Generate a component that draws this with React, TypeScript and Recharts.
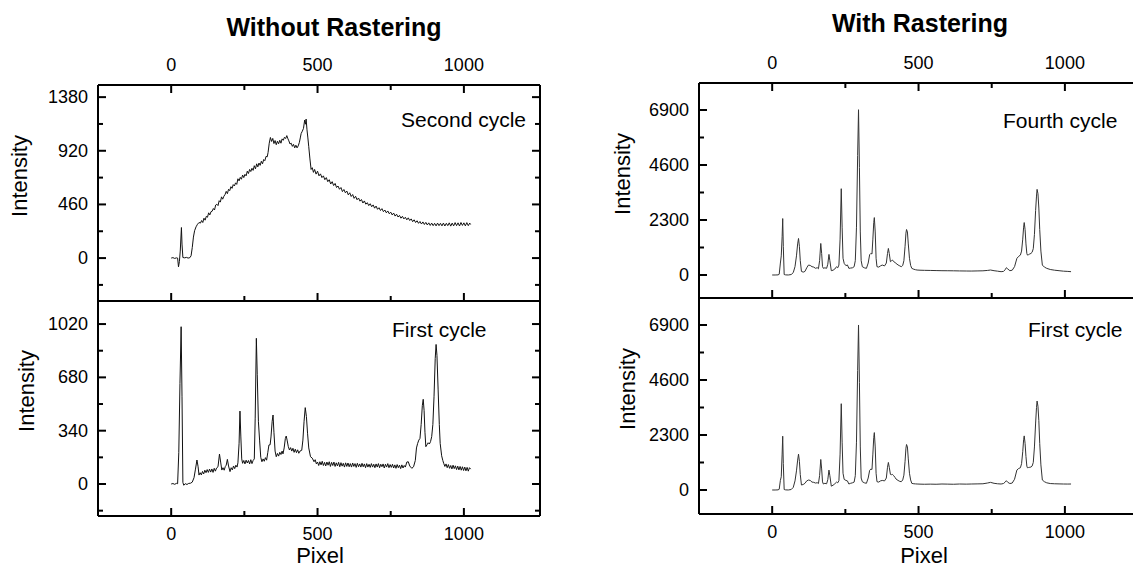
import { LineChart, Line, XAxis, YAxis } from "recharts";

const FONT = '"Liberation Sans", Arial, Helvetica, sans-serif';

// pixel axis
const pixelDomain: [number, number] = [-250, 1260];
const pixelTicks = [0, 250, 500, 750, 1000];
const pixelMajors = [0, 500, 1000];

// y ticks per panel
const secondTicks = [-230, 0, 230, 460, 690, 920, 1150, 1380];
const secondMajors = [0, 460, 920, 1380];
const firstTicks = [-170, 0, 170, 340, 510, 680, 850, 1020];
const firstMajors = [0, 340, 680, 1020];
const rasterTicks = [0, 1150, 2300, 3450, 4600, 5750, 6900];
const rasterMajors = [0, 2300, 4600, 6900];

// [pixel, intensity]
const secondNoRaster: [number, number][] = [
  [0, 0], [6, 4], [12, -3], [18, 2], [22, 0], [25, -75], [28, -30], [31, 60], [35, 262], [37, 120],
  [40, 5], [46, 2], [52, 6], [58, 0], [64, 4], [68, 20], [72, 90], [76, 180], [80, 235], [85, 268],
  [90, 290], [95, 305], [100, 300], [104, 322], [108, 305], [112, 342], [116, 325], [120, 358], [124, 350],
  [128, 388], [132, 370], [136, 398], [140, 402], [144, 425], [148, 412], [152, 455], [156, 462], [160, 450],
  [164, 492], [168, 480], [172, 525], [176, 505], [180, 530], [184, 545], [188, 572], [192, 552], [196, 590],
  [200, 578], [204, 612], [208, 598], [212, 630], [216, 618], [220, 645], [224, 632], [228, 680], [232, 662],
  [236, 692], [240, 676], [244, 712], [248, 690], [252, 718], [256, 705], [260, 745], [264, 725], [268, 760],
  [272, 742], [276, 770], [280, 752], [284, 792], [288, 765], [292, 808], [296, 782], [300, 815], [304, 795],
  [308, 830], [312, 808], [316, 845], [320, 835], [324, 872], [328, 868], [331, 905], [335, 985], [339, 1034],
  [343, 1000], [347, 1026], [351, 982], [355, 1008], [359, 972], [363, 1002], [367, 980], [371, 1010],
  [375, 985], [379, 1022], [383, 1010], [387, 1036], [391, 1025], [395, 1050], [398, 1028], [402, 1005],
  [406, 978], [410, 985], [414, 958], [418, 975], [422, 945], [426, 968], [430, 945], [434, 962], [438, 992],
  [441, 1030], [444, 1068], [448, 1088], [452, 1112], [456, 1183], [459, 1148], [461, 1192], [464, 1100],
  [467, 1030], [470, 955], [474, 850], [478, 760], [482, 775], [486, 735], [490, 760], [495, 720], [500, 745],
  [505, 705], [510, 722], [515, 690], [520, 705], [525, 672], [530, 690], [535, 655], [540, 672], [545, 635],
  [550, 655], [555, 622], [560, 640], [565, 605], [570, 618], [575, 590], [580, 605], [585, 570], [590, 588],
  [595, 560], [600, 575], [605, 542], [610, 560], [615, 528], [620, 545], [625, 512], [630, 530], [635, 500],
  [640, 515], [645, 488], [650, 502], [655, 472], [660, 490], [665, 462], [670, 475], [675, 450], [680, 466],
  [685, 440], [690, 456], [695, 428], [700, 446], [705, 418], [710, 432], [715, 408], [720, 424], [725, 398],
  [730, 412], [735, 388], [740, 404], [745, 380], [750, 394], [755, 370], [760, 386], [765, 360], [770, 376],
  [775, 352], [780, 366], [785, 342], [790, 358], [795, 336], [800, 350], [805, 328], [810, 345], [815, 322],
  [820, 336], [825, 312], [830, 328], [835, 305], [840, 320], [845, 298], [850, 314], [855, 292], [860, 310],
  [865, 288], [870, 306], [875, 284], [880, 302], [885, 280], [890, 300], [895, 278], [900, 298], [905, 276],
  [910, 300], [915, 278], [920, 298], [925, 276], [930, 300], [935, 275], [940, 298], [945, 278], [950, 302],
  [955, 274], [960, 300], [965, 276], [970, 304], [975, 278], [980, 302], [985, 275], [990, 305], [995, 280],
  [1000, 302], [1005, 276], [1010, 304], [1015, 278], [1020, 300], [1023, 288],
];

const firstNoRaster: [number, number][] = [
  [0, 0], [6, 3], [12, -2], [18, 4], [22, 2], [26, 200], [30, 640], [34, 1003], [37, 560], [40, 10],
  [43, -8], [48, 2], [54, -3], [60, 4], [66, 5], [72, 12], [78, 40], [83, 95], [88, 153], [92, 110],
  [95, 57], [99, 72], [103, 58], [107, 80], [111, 64], [115, 88], [119, 72], [123, 92], [127, 74], [131, 95],
  [135, 76], [139, 96], [143, 74], [147, 100], [151, 82], [155, 102], [160, 110], [165, 191], [169, 140],
  [173, 89], [177, 104], [181, 88], [185, 112], [188, 120], [192, 157], [196, 115], [201, 79], [205, 104],
  [209, 90], [213, 115], [217, 98], [221, 120], [225, 108], [228, 135], [232, 260], [235, 465], [238, 300],
  [241, 160], [244, 132], [248, 150], [252, 128], [256, 152], [260, 134], [264, 150], [268, 128], [272, 155],
  [276, 130], [280, 150], [284, 160], [287, 420], [291, 929], [294, 700], [298, 397], [302, 280], [306, 170],
  [310, 142], [314, 160], [318, 145], [322, 168], [326, 152], [330, 200], [334, 249], [338, 250], [341, 300],
  [345, 400], [348, 440], [351, 330], [355, 210], [359, 174], [363, 195], [367, 178], [371, 202], [375, 188],
  [379, 210], [382, 192], [386, 230], [390, 290], [393, 306], [396, 280], [400, 240], [404, 217], [408, 232],
  [412, 210], [416, 228], [420, 202], [424, 222], [428, 200], [432, 218], [436, 196], [440, 210], [446, 215],
  [450, 280], [454, 400], [458, 487], [462, 430], [466, 320], [470, 230], [476, 174], [482, 165], [488, 142],
  [492, 155], [496, 128], [500, 140], [504, 118], [508, 142], [512, 122], [516, 145], [520, 118], [524, 138],
  [528, 115], [532, 140], [536, 120], [540, 142], [544, 112], [548, 138], [552, 118], [556, 140], [560, 112],
  [564, 135], [568, 115], [572, 138], [576, 110], [580, 136], [584, 114], [588, 132], [592, 108], [596, 135],
  [600, 112], [604, 134], [608, 110], [612, 130], [616, 108], [620, 134], [624, 112], [628, 130], [632, 106],
  [636, 132], [640, 110], [644, 128], [648, 108], [652, 132], [656, 110], [660, 128], [664, 104], [668, 130],
  [672, 108], [676, 126], [680, 106], [684, 130], [688, 108], [692, 126], [696, 104], [700, 128], [704, 108],
  [708, 130], [712, 104], [716, 126], [720, 110], [724, 128], [728, 102], [732, 126], [736, 108], [740, 130],
  [744, 104], [748, 124], [752, 106], [756, 126], [760, 102], [764, 122], [768, 100], [772, 124], [776, 104],
  [780, 120], [784, 98], [788, 122], [792, 102], [796, 118], [800, 108], [805, 140], [810, 142], [815, 115],
  [822, 100], [828, 110], [834, 150], [838, 230], [842, 259], [846, 280], [850, 291], [854, 380], [858, 500],
  [861, 540], [864, 470], [867, 330], [870, 238], [874, 250], [878, 263], [882, 255], [886, 270], [890, 302],
  [894, 380], [898, 560], [902, 800], [905, 890], [908, 820], [912, 600], [916, 380], [919, 259], [924, 180],
  [928, 150], [931, 132], [935, 112], [939, 128], [943, 104], [947, 124], [951, 100], [955, 118], [959, 96],
  [963, 120], [967, 98], [971, 116], [975, 92], [979, 114], [983, 90], [987, 112], [991, 88], [995, 110],
  [999, 86], [1003, 108], [1007, 84], [1011, 106], [1015, 82], [1019, 104], [1023, 95],
];

const fourthRaster: [number, number][] = [
  [0, 0], [10, 0], [20, 5], [24, 30], [28, 500], [31, 800], [34, 1600], [36, 2360], [38, 1200], [41, 20],
  [46, 5], [55, 0], [65, 20], [72, 100], [78, 350], [83, 800], [87, 1300], [90, 1527], [93, 1200], [96, 600],
  [100, 150], [106, 120], [112, 150], [118, 300], [124, 416], [130, 400], [136, 347], [142, 330], [148, 280],
  [154, 305], [158, 260], [162, 600], [166, 1319], [169, 900], [172, 350], [175, 278], [180, 300], [186, 280],
  [190, 450], [194, 861], [197, 600], [202, 180], [208, 200], [214, 250], [220, 347], [224, 300], [228, 416],
  [232, 1500], [236, 3609], [239, 2000], [242, 700], [246, 486], [252, 389], [257, 420], [262, 278], [268, 290],
  [274, 300], [280, 347], [284, 600], [288, 2000], [292, 5000], [295, 6912], [298, 4500], [301, 1800], [304, 600],
  [308, 347], [315, 300], [322, 278], [328, 500], [333, 850], [337, 902], [341, 880], [344, 1500], [347, 2200],
  [349, 2401], [352, 1800], [355, 700], [358, 347], [364, 330], [370, 380], [376, 416], [384, 380], [390, 500],
  [394, 900], [397, 1110], [400, 900], [404, 555], [408, 600], [411, 625], [415, 560], [420, 520], [423, 486],
  [430, 420], [436, 380], [441, 347], [446, 400], [450, 600], [454, 1200], [457, 1750], [459, 1902], [462, 1800],
  [465, 1300], [469, 700], [473, 400], [477, 278], [484, 240], [490, 220], [495, 208], [505, 200], [520, 195],
  [540, 190], [560, 185], [580, 180], [600, 178], [620, 175], [640, 170], [663, 167], [680, 165], [700, 170],
  [720, 175], [735, 190], [746, 208], [758, 180], [770, 160], [782, 139], [790, 150], [796, 220], [800, 305],
  [805, 250], [812, 180], [820, 200], [828, 350], [836, 694], [842, 780], [848, 833], [852, 1000], [856, 1500],
  [859, 2000], [861, 2193], [864, 1900], [867, 1300], [870, 900], [872, 833], [876, 850], [880, 880], [884, 902],
  [888, 950], [892, 1100], [896, 1700], [900, 2700], [903, 3300], [905, 3581], [908, 3400], [911, 2800],
  [914, 1900], [918, 1000], [923, 416], [930, 330], [938, 278], [950, 230], [965, 200], [980, 180], [995, 160],
  [1010, 150], [1021, 139],
];

const firstRaster: [number, number][] = [
  [0, 0], [10, 0], [20, 5], [24, 30], [28, 400], [31, 555], [34, 1500], [36, 2249], [38, 1100], [41, 20],
  [46, 5], [55, 0], [65, 20], [72, 110], [78, 380], [83, 800], [87, 1250], [90, 1499], [93, 1200], [96, 650],
  [100, 208], [106, 230], [112, 280], [118, 380], [124, 416], [130, 400], [136, 330], [142, 320], [148, 290],
  [154, 305], [158, 270], [162, 600], [166, 1277], [169, 880], [172, 340], [175, 250], [180, 280], [186, 260],
  [190, 430], [194, 833], [197, 600], [202, 160], [208, 200], [214, 260], [220, 330], [224, 300], [228, 389],
  [232, 1500], [236, 3609], [239, 2000], [242, 700], [246, 444], [252, 400], [257, 380], [262, 250], [268, 280],
  [274, 300], [280, 330], [284, 600], [288, 2000], [292, 5000], [295, 6900], [298, 4500], [301, 1800], [304, 500],
  [308, 347], [315, 300], [322, 280], [328, 500], [333, 820], [337, 874], [341, 860], [344, 1500], [347, 2200],
  [349, 2401], [352, 1800], [355, 700], [358, 347], [364, 330], [370, 380], [376, 400], [384, 380], [390, 500],
  [394, 950], [397, 1152], [400, 950], [404, 652], [408, 640], [411, 652], [415, 600], [420, 520], [423, 460],
  [430, 400], [436, 360], [441, 347], [446, 420], [450, 620], [454, 1200], [457, 1750], [459, 1902], [462, 1800],
  [465, 1300], [469, 700], [473, 420], [477, 278], [484, 260], [490, 255], [495, 250], [505, 245], [520, 240],
  [540, 245], [560, 240], [580, 250], [600, 245], [620, 240], [640, 250], [663, 245], [680, 250], [700, 255],
  [720, 260], [735, 290], [746, 319], [758, 280], [770, 260], [782, 250], [790, 270], [796, 330], [800, 389],
  [805, 320], [812, 270], [820, 290], [828, 450], [836, 833], [842, 900], [848, 930], [852, 1100], [856, 1600],
  [859, 2100], [861, 2262], [864, 1950], [867, 1400], [870, 1000], [872, 930], [876, 940], [880, 950], [884, 960],
  [888, 1000], [892, 1150], [896, 1800], [900, 2800], [903, 3450], [905, 3720], [908, 3500], [911, 2900],
  [914, 1950], [918, 1050], [923, 416], [930, 347], [938, 300], [950, 270], [965, 260], [980, 255], [995, 250],
  [1010, 248], [1021, 250],
];

type Side = "top" | "bottom" | "left" | "right";

function makeTick(side: Side, majors: number[], showLabels: boolean) {
  return (props: any) => {
    const { x, y, payload } = props;
    const v = payload.value as number;
    const major = majors.includes(v);
    const len = major ? 8 : 5;
    let x2 = x, y2 = y;
    if (side === "top") y2 = y + len;
    if (side === "bottom") y2 = y - len;
    if (side === "left") x2 = x + len;
    if (side === "right") x2 = x - len;
    let label = null;
    if (showLabels && major) {
      if (side === "left")
        label = (
          <text x={x - 10} y={y + 6} textAnchor="end" fontSize={18} fontFamily={FONT} fill="#000">
            {v}
          </text>
        );
      if (side === "top")
        label = (
          <text x={x} y={y - 14} textAnchor="middle" fontSize={18} fontFamily={FONT} fill="#000">
            {v}
          </text>
        );
      if (side === "bottom")
        label = (
          <text x={x} y={y + 24} textAnchor="middle" fontSize={18} fontFamily={FONT} fill="#000">
            {v}
          </text>
        );
    }
    return (
      <g>
        <line x1={x} y1={y} x2={x2} y2={y2} stroke="#000" strokeWidth={2} />
        {label}
      </g>
    );
  };
}

interface PanelProps {
  box: { x: number; y: number; w: number; h: number };
  yDomain: [number, number];
  yTicks: number[];
  yMajors: number[];
  series: [number, number][];
  color: string;
  upper: boolean;
}

const frame = { stroke: "#000", strokeWidth: 2 };

function Panel({ box, yDomain, yTicks, yMajors, series, color, upper }: PanelProps) {
  const data = series.map(([p, v]) => ({ p, v }));
  return (
    <div style={{ position: "absolute", left: box.x - 60, top: box.y - 40 }}>
      <LineChart
        width={box.w + 80}
        height={box.h + 80}
        data={data}
        margin={{ top: 10, right: 0, bottom: 10, left: 0 }}
      >
        <XAxis
          xAxisId="t"
          orientation="top"
          type="number"
          dataKey="p"
          domain={pixelDomain}
          allowDataOverflow
          ticks={upper ? pixelTicks : []}
          interval={0}
          height={30}
          tickSize={0}
          tickMargin={0}
          tickLine={false}
          axisLine={frame}
          tick={upper ? makeTick("top", pixelMajors, true) : false}
        />
        <XAxis
          xAxisId="b"
          orientation="bottom"
          type="number"
          dataKey="p"
          domain={pixelDomain}
          allowDataOverflow
          ticks={pixelTicks}
          interval={0}
          height={30}
          tickSize={0}
          tickMargin={0}
          tickLine={false}
          axisLine={frame}
          tick={makeTick("bottom", pixelMajors, !upper)}
        />
        <YAxis
          yAxisId="l"
          orientation="left"
          type="number"
          domain={yDomain}
          allowDataOverflow
          ticks={yTicks}
          interval={0}
          width={60}
          tickSize={0}
          tickMargin={0}
          tickLine={false}
          axisLine={frame}
          tick={makeTick("left", yMajors, true)}
        />
        <YAxis
          yAxisId="r"
          orientation="right"
          type="number"
          domain={yDomain}
          allowDataOverflow
          ticks={yTicks}
          interval={0}
          width={20}
          tickSize={0}
          tickMargin={0}
          tickLine={false}
          axisLine={frame}
          tick={makeTick("right", yMajors, false)}
        />
        <Line
          xAxisId="b"
          yAxisId="l"
          type="linear"
          dataKey="v"
          stroke={color}
          strokeWidth={1}
          dot={false}
          isAnimationActive={false}
        />
      </LineChart>
    </div>
  );
}

function Txt({
  x, y, size, children, anchor = "middle", bold = false, rotate = false,
}: {
  x: number; y: number; size: number; children: string; anchor?: "start" | "middle" | "end";
  bold?: boolean; rotate?: boolean;
}) {
  const tx = anchor === "middle" ? "-50%" : anchor === "end" ? "-100%" : "0";
  return (
    <div
      style={{
        position: "absolute",
        left: x,
        top: y,
        transform: rotate ? "translate(-50%,-50%) rotate(-90deg)" : `translate(${tx},-50%)`,
        fontFamily: FONT,
        fontSize: size,
        fontWeight: bold ? 700 : 400,
        whiteSpace: "nowrap",
        lineHeight: 1,
        color: "#000",
      }}
    >
      {children}
    </div>
  );
}

export default function App() {
  return (
    <div
      style={{
        position: "absolute",
        left: 0,
        top: 0,
        width: 1133,
        height: 567,
        overflow: "hidden",
        background: "#fff",
      }}
    >
      <Panel box={{ x: 98, y: 85, w: 442, h: 216 }} yDomain={[-368, 1484]} yTicks={secondTicks}
        yMajors={secondMajors} series={secondNoRaster} color="#111" upper />
      <Panel box={{ x: 98, y: 301, w: 442, h: 215 }} yDomain={[-204, 1167]} yTicks={firstTicks}
        yMajors={firstMajors} series={firstNoRaster} color="#111" upper={false} />
      <Panel box={{ x: 699, y: 83, w: 442, h: 215 }} yDomain={[-962, 8029]} yTicks={rasterTicks}
        yMajors={rasterMajors} series={fourthRaster} color="#333" upper />
      <Panel box={{ x: 699, y: 298, w: 442, h: 216 }} yDomain={[-1004, 8029]} yTicks={rasterTicks}
        yMajors={rasterMajors} series={firstRaster} color="#333" upper={false} />

      <Txt x={334} y={27} size={25} bold>Without Rastering</Txt>
      <Txt x={920} y={23} size={25} bold>With Rastering</Txt>

      <Txt x={20} y={176} size={22} rotate>Intensity</Txt>
      <Txt x={27} y={391} size={22} rotate>Intensity</Txt>
      <Txt x={623} y={174} size={22} rotate>Intensity</Txt>
      <Txt x={628} y={389} size={22} rotate>Intensity</Txt>

      <Txt x={320} y={556} size={22}>Pixel</Txt>
      <Txt x={924} y={556} size={22}>Pixel</Txt>

      <Txt x={526} y={119} size={21} anchor="end">Second cycle</Txt>
      <Txt x={392} y={329} size={21} anchor="start">First cycle</Txt>
      <Txt x={1003} y={120} size={21} anchor="start">Fourth cycle</Txt>
      <Txt x={1028} y={329} size={21} anchor="start">First cycle</Txt>
    </div>
  );
}
